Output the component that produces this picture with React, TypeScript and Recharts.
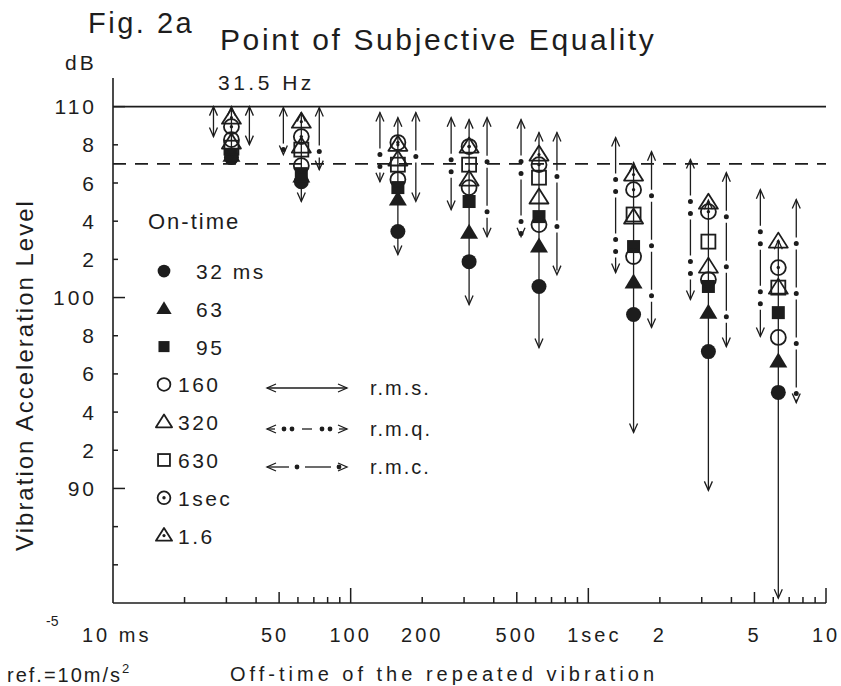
import React from 'react';
import { ComposedChart, Line, Scatter, XAxis, YAxis, ReferenceLine, Legend } from 'recharts';

const INK = '#1d1d1d';
const FONT = '"Liberation Sans", Arial, Helvetica, sans-serif';

// Off-time of the repeated vibration (ms)
const offTimes = [31.5, 62, 158, 315, 620, 1550, 3200, 6300];

// Point of subjective equality (dB) for each on-time, one value per off-time
const on32 = [107.33, 106.07, 103.46, 101.88, 100.58, 99.11, 97.17, 95.03];
const on63 = [107.43, 106.34, 105.13, 103.4, 102.67, 100.79, 99.21, 96.65];
const on95 = [107.49, 106.49, 105.76, 105.03, 104.24, 102.67, 100.58, 99.21];
const on160 = [108.27, 106.91, 106.18, 105.76, 103.82, 102.15, 100.94, 97.91];
const on320 = [108.12, 107.91, 107.23, 106.18, 105.24, 104.19, 101.62, 100.52];
const on630 = [107.85, 107.75, 106.96, 106.96, 106.28, 104.35, 102.93, 100.52];
const on1000 = [108.95, 108.43, 108.12, 107.91, 106.96, 105.65, 104.5, 101.57];
const on1600 = [109.42, 109.21, 108.0, 107.91, 107.49, 106.44, 104.97, 102.93];

// Ranges (dB) drawn as arrows: r.m.s. (centre), r.m.q. (left), r.m.c. (right)
const rmsTop = [110, 109.69, 109.42, 109.32, 108.64, 107.07, 105.1, 103.0];
const rmsBottom = [107.25, 105.03, 102.25, 99.63, 97.38, 92.93, 89.9, 84.25];
const rmqTop = [110, 109.95, 109.69, 109.42, 109.32, 108.38, 107.23, 105.65];
const rmqBottom = [108.43, 107.49, 106.07, 104.61, 103.19, 101.31, 99.9, 97.96];
const rmcTop = [110, 109.95, 109.69, 109.42, 108.64, 107.64, 106.54, 105.13];
const rmcBottom = [108.01, 106.7, 105.03, 103.19, 101.2, 98.43, 97.43, 94.5];

const onTimeLabels = ['32 ms', '63', '95', '160', '320', '630', '1sec', '1.6'];
const onTimeValues = [on32, on63, on95, on160, on320, on630, on1000, on1600];
const markerKinds = ['fc', 'ft', 'fs', 'oc', 'ot', 'os', 'dc', 'dt'];
const methodLabels = ['r.m.s.', 'r.m.q.', 'r.m.c.'];

const xTicks = [10, 20, 30, 40, 50, 60, 70, 80, 90, 100, 200, 300, 400, 500, 600, 700, 800, 900, 1000, 2000, 3000, 4000, 5000, 6000, 7000, 8000, 9000, 10000];
const xLabelValues = [10, 50, 100, 200, 500, 1000, 2000, 5000, 10000];
const xLabelTexts = ['10 ms', '50', '100', '200', '500', '1sec', '2', '5', '10'];
const yTicks = [86, 88, 90, 92, 94, 96, 98, 100, 102, 104, 106, 108, 110];
const yTickLabels = ['', '', '90', '2', '4', '6', '8', '100', '2', '4', '6', '8', '110'];
const solidLevel = 110;
const dashedLevel = 107;

const SIDE = 1.19; // horizontal spread of side arrows (multiplicative on log axis)

const Marker = ({ kind, cx, cy, s = 1 }: { kind: string; cx: number; cy: number; s?: number }) => {
  const sw = 1.8;
  const tri = (w: number, h: number) =>
    `${cx},${cy - h * 0.6} ${cx + w / 2},${cy + h * 0.4} ${cx - w / 2},${cy + h * 0.4}`;
  switch (kind) {
    case 'fc':
      return <circle cx={cx} cy={cy} r={7.5 * s} fill={INK} />;
    case 'ft':
      return <polygon points={tri(18 * s, 15 * s)} fill={INK} />;
    case 'fs':
      return <rect x={cx - 6.5 * s} y={cy - 6.5 * s} width={13 * s} height={13 * s} fill={INK} />;
    case 'oc':
      return <circle cx={cx} cy={cy} r={7.5 * s} fill="none" stroke={INK} strokeWidth={sw} />;
    case 'ot':
      return <polygon points={tri(19 * s, 15 * s)} fill="none" stroke={INK} strokeWidth={sw} strokeLinejoin="round" />;
    case 'os':
      return <rect x={cx - 7 * s} y={cy - 7 * s} width={14 * s} height={14 * s} fill="none" stroke={INK} strokeWidth={sw} />;
    case 'dc':
      return (
        <g>
          <circle cx={cx} cy={cy} r={7.5 * s} fill="none" stroke={INK} strokeWidth={sw} />
          <circle cx={cx} cy={cy} r={1.7} fill={INK} />
        </g>
      );
    case 'dt':
    default:
      return (
        <g>
          <polygon points={tri(19 * s, 15 * s)} fill="none" stroke={INK} strokeWidth={sw} strokeLinejoin="round" />
          <circle cx={cx} cy={cy} r={1.6} fill={INK} />
        </g>
      );
  }
};

const arrowHead = (props: any) => {
  const { cx, cy, index } = props;
  if (cx == null || cy == null) return <g key={`n${index}`} />;
  const d =
    index === 0
      ? `M${cx - 4},${cy + 9} L${cx},${cy} L${cx + 4},${cy + 9}`
      : `M${cx - 4},${cy - 9} L${cx},${cy} L${cx + 4},${cy - 9}`;
  return <path key={`a${index}`} d={d} fill="none" stroke={INK} strokeWidth={1.3} />;
};

const XTick = (props: any) => {
  const { x, y, payload } = props;
  const v = payload.value;
  const lg = Math.log10(v);
  const isDecade = Math.abs(lg - Math.round(lg)) < 1e-6;
  const isFive = Math.abs(lg - Math.floor(lg) - 0.69897) < 1e-3;
  const len = isDecade ? 15 : isFive ? 11 : 6;
  const li = xLabelValues.indexOf(v);
  const label = li >= 0 ? xLabelTexts[li] : '';
  let tx = x;
  let anchor: 'middle' | 'start' = 'middle';
  if (label === '10 ms') {
    tx = x - 31;
    anchor = 'start';
  } else if (label === '1sec') tx = x + 6;
  else if (label === '50') tx = x - 4;
  return (
    <g>
      {v !== 10 && <line x1={x} y1={y} x2={x} y2={y - len} stroke={INK} strokeWidth={1.5} />}
      {label && (
        <text x={tx} y={y + 39} textAnchor={anchor} fontFamily={FONT} fontSize={20} letterSpacing={3} fill={INK}>
          {label}
        </text>
      )}
    </g>
  );
};

const YTick = (props: any) => {
  const { x, y, payload } = props;
  const v = payload.value;
  const major = v % 10 === 0;
  const idx = yTicks.indexOf(v);
  return (
    <g>
      <line x1={x} y1={y} x2={x + (major ? 12 : 5)} y2={y} stroke={INK} strokeWidth={1.5} />
      <text x={x - 16} y={y + 7.5} textAnchor="end" fontFamily={FONT} fontSize={21} letterSpacing={3} fill={INK}>
        {yTickLabels[idx]}
      </text>
    </g>
  );
};

const seg = (tops: number[], bottoms: number[], f: number) =>
  offTimes.map((t, i) => [
    { t: t * f, v: tops[i] },
    { t: t * f, v: bottoms[i] },
  ]);

const rmsSegs = seg(rmsTop, rmsBottom, 1);
const rmqSegs = seg(rmqTop, rmqBottom, 1 / SIDE);
const rmcSegs = seg(rmcTop, rmcBottom, SIDE);

const HArrow = ({ x1, x2, y, kind }: { x1: number; x2: number; y: number; kind: number }) => {
  const head = (
    <g>
      <path d={`M${x1 + 9},${y - 4} L${x1},${y} L${x1 + 9},${y + 4}`} fill="none" stroke={INK} strokeWidth={1.3} />
      <path d={`M${x2 - 9},${y - 4} L${x2},${y} L${x2 - 9},${y + 4}`} fill="none" stroke={INK} strokeWidth={1.3} />
    </g>
  );
  if (kind === 0) {
    return (
      <g>
        <line x1={x1} y1={y} x2={x2} y2={y} stroke={INK} strokeWidth={1.3} />
        {head}
      </g>
    );
  }
  if (kind === 1) {
    return (
      <g>
        <line x1={x1} y1={y} x2={x1 + 8} y2={y} stroke={INK} strokeWidth={1.3} />
        <circle cx={x1 + 17} cy={y} r={2.4} fill={INK} />
        <circle cx={x1 + 25} cy={y} r={2.4} fill={INK} />
        <line x1={x1 + 35} y1={y} x2={x2 - 35} y2={y} stroke={INK} strokeWidth={1.3} />
        <circle cx={x2 - 25} cy={y} r={2.4} fill={INK} />
        <circle cx={x2 - 17} cy={y} r={2.4} fill={INK} />
        <line x1={x2 - 8} y1={y} x2={x2} y2={y} stroke={INK} strokeWidth={1.3} />
        {head}
      </g>
    );
  }
  return (
    <g>
      <line x1={x1} y1={y} x2={x1 + 22} y2={y} stroke={INK} strokeWidth={1.3} />
      <circle cx={x1 + 30} cy={y} r={2.4} fill={INK} />
      <line x1={x1 + 38} y1={y} x2={x2 - 16} y2={y} stroke={INK} strokeWidth={1.3} />
      <circle cx={x2 - 8} cy={y} r={2.4} fill={INK} />
      {head}
    </g>
  );
};

const LegendBox = () => (
  <svg width={841} height={686} style={{ display: 'block', overflow: 'visible', pointerEvents: 'none' }}>
    <text x={148} y={229} fontFamily={FONT} fontSize={22} letterSpacing={2} fill={INK}>
      On-time
    </text>
    {onTimeLabels.map((lab, i) => {
      const cy = 271 + i * 37.8;
      const tx = i < 3 ? 196 : 178;
      return (
        <g key={lab}>
          <Marker kind={markerKinds[i]} cx={164} cy={cy} s={0.85} />
          <text x={tx} y={cy + 8} fontFamily={FONT} fontSize={21} letterSpacing={2.5} fill={INK}>
            {lab}
          </text>
        </g>
      );
    })}
    {methodLabels.map((m, i) => {
      const y = [388, 429, 467][i];
      return (
        <g key={m}>
          <HArrow x1={267} x2={347} y={y} kind={i} />
          <text x={370} y={y + 7} fontFamily={FONT} fontSize={20} letterSpacing={2} fill={INK}>
            {m}
          </text>
        </g>
      );
    })}
  </svg>
);

export default function App() {
  return (
    <div style={{ position: 'absolute', left: 0, top: 0, width: 841, height: 686, background: '#fff' }}>
      <ComposedChart width={841} height={686} margin={{ top: 78, right: 15, bottom: 53, left: 53 }}>
        <XAxis
          dataKey="t"
          type="number"
          scale="log"
          domain={[10, 10000]}
          ticks={xTicks}
          interval={0}
          allowDataOverflow
          height={30}
          axisLine={{ stroke: INK, strokeWidth: 1.6 }}
          tickLine={false}
          tickSize={0}
          tickMargin={0}
          tick={(p: any) => <XTick {...p} />}
        />
        <YAxis
          dataKey="v"
          type="number"
          domain={[84, 111.5]}
          ticks={yTicks}
          interval={0}
          allowDataOverflow
          width={60}
          axisLine={{ stroke: INK, strokeWidth: 1.6 }}
          tickLine={false}
          tickSize={0}
          tickMargin={0}
          tick={(p: any) => <YTick {...p} />}
        />
        <ReferenceLine y={solidLevel} stroke={INK} strokeWidth={1.6} />
        <ReferenceLine y={dashedLevel} stroke={INK} strokeWidth={1.6} strokeDasharray="13 9" />

        {rmsSegs.map((d, i) => (
          <Line
            key={`rms${i}`}
            data={d}
            dataKey="v"
            type="linear"
            stroke={INK}
            strokeWidth={1.3}
            dot={arrowHead}
            activeDot={false}
            isAnimationActive={false}
            legendType="none"
          />
        ))}
        {rmqSegs.map((d, i) => (
          <Line
            key={`rmq${i}`}
            data={d}
            dataKey="v"
            type="linear"
            stroke={INK}
            strokeWidth={1.3}
            strokeDasharray="36 24"
            dot={arrowHead}
            activeDot={false}
            isAnimationActive={false}
            legendType="none"
          />
        ))}
        {rmqSegs.map((d, i) => (
          <Line
            key={`rmqd${i}`}
            data={d}
            dataKey="v"
            type="linear"
            stroke={INK}
            strokeWidth={5}
            strokeLinecap="round"
            strokeDasharray="0 12 0 48"
            strokeDashoffset={-42}
            dot={false}
            activeDot={false}
            isAnimationActive={false}
            legendType="none"
          />
        ))}
        {rmcSegs.map((d, i) => (
          <Line
            key={`rmc${i}`}
            data={d}
            dataKey="v"
            type="linear"
            stroke={INK}
            strokeWidth={1.3}
            strokeDasharray="38 12"
            dot={arrowHead}
            activeDot={false}
            isAnimationActive={false}
            legendType="none"
          />
        ))}
        {rmcSegs.map((d, i) => (
          <Line
            key={`rmcd${i}`}
            data={d}
            dataKey="v"
            type="linear"
            stroke={INK}
            strokeWidth={5}
            strokeLinecap="round"
            strokeDasharray="0 50"
            strokeDashoffset={-44}
            dot={false}
            activeDot={false}
            isAnimationActive={false}
            legendType="none"
          />
        ))}

        {onTimeValues.map((vals, k) => (
          <Scatter
            key={onTimeLabels[k]}
            name={onTimeLabels[k]}
            data={offTimes.map((t, i) => ({ t, v: vals[i] }))}
            dataKey="v"
            isAnimationActive={false}
            shape={(p: any) => <Marker kind={markerKinds[k]} cx={p.cx} cy={p.cy} />}
          />
        ))}

        <Legend
          layout="horizontal"
          align="center"
          verticalAlign="middle"
          wrapperStyle={{ left: 0, top: 0, width: 841, height: 686, pointerEvents: 'none' }}
          content={() => <LegendBox />}
        />
      </ComposedChart>

      <svg width={841} height={686} style={{ position: 'absolute', left: 0, top: 0, pointerEvents: 'none' }}>
        <text x={88} y={33} fontFamily={FONT} fontSize={29} letterSpacing={2.5} fill={INK}>
          Fig. 2a
        </text>
        <text x={220} y={50} fontFamily={FONT} fontSize={30} letterSpacing={2.6} fill={INK}>
          Point of Subjective Equality
        </text>
        <text x={65} y={70} fontFamily={FONT} fontSize={21} letterSpacing={3} fill={INK}>
          dB
        </text>
        <text x={218} y={90} fontFamily={FONT} fontSize={21} letterSpacing={3.5} fill={INK}>
          31.5 Hz
        </text>
        <text
          x={33}
          y={375}
          transform="rotate(-90 33 375)"
          textAnchor="middle"
          fontFamily={FONT}
          fontSize={24}
          letterSpacing={2}
          fill={INK}
        >
          Vibration Acceleration Level
        </text>
        <text x={230} y={681} fontFamily={FONT} fontSize={20} letterSpacing={4} fill={INK}>
          Off-time of the repeated vibration
        </text>
        <text x={7} y={682} fontFamily={FONT} fontSize={20} letterSpacing={2} fill={INK}>
          ref.=10m/s<tspan dy={-9} fontSize={13}>2</tspan>
        </text>
        <text x={46} y={626} fontFamily={FONT} fontSize={14} fill={INK}>
          -5
        </text>
      </svg>
    </div>
  );
}
